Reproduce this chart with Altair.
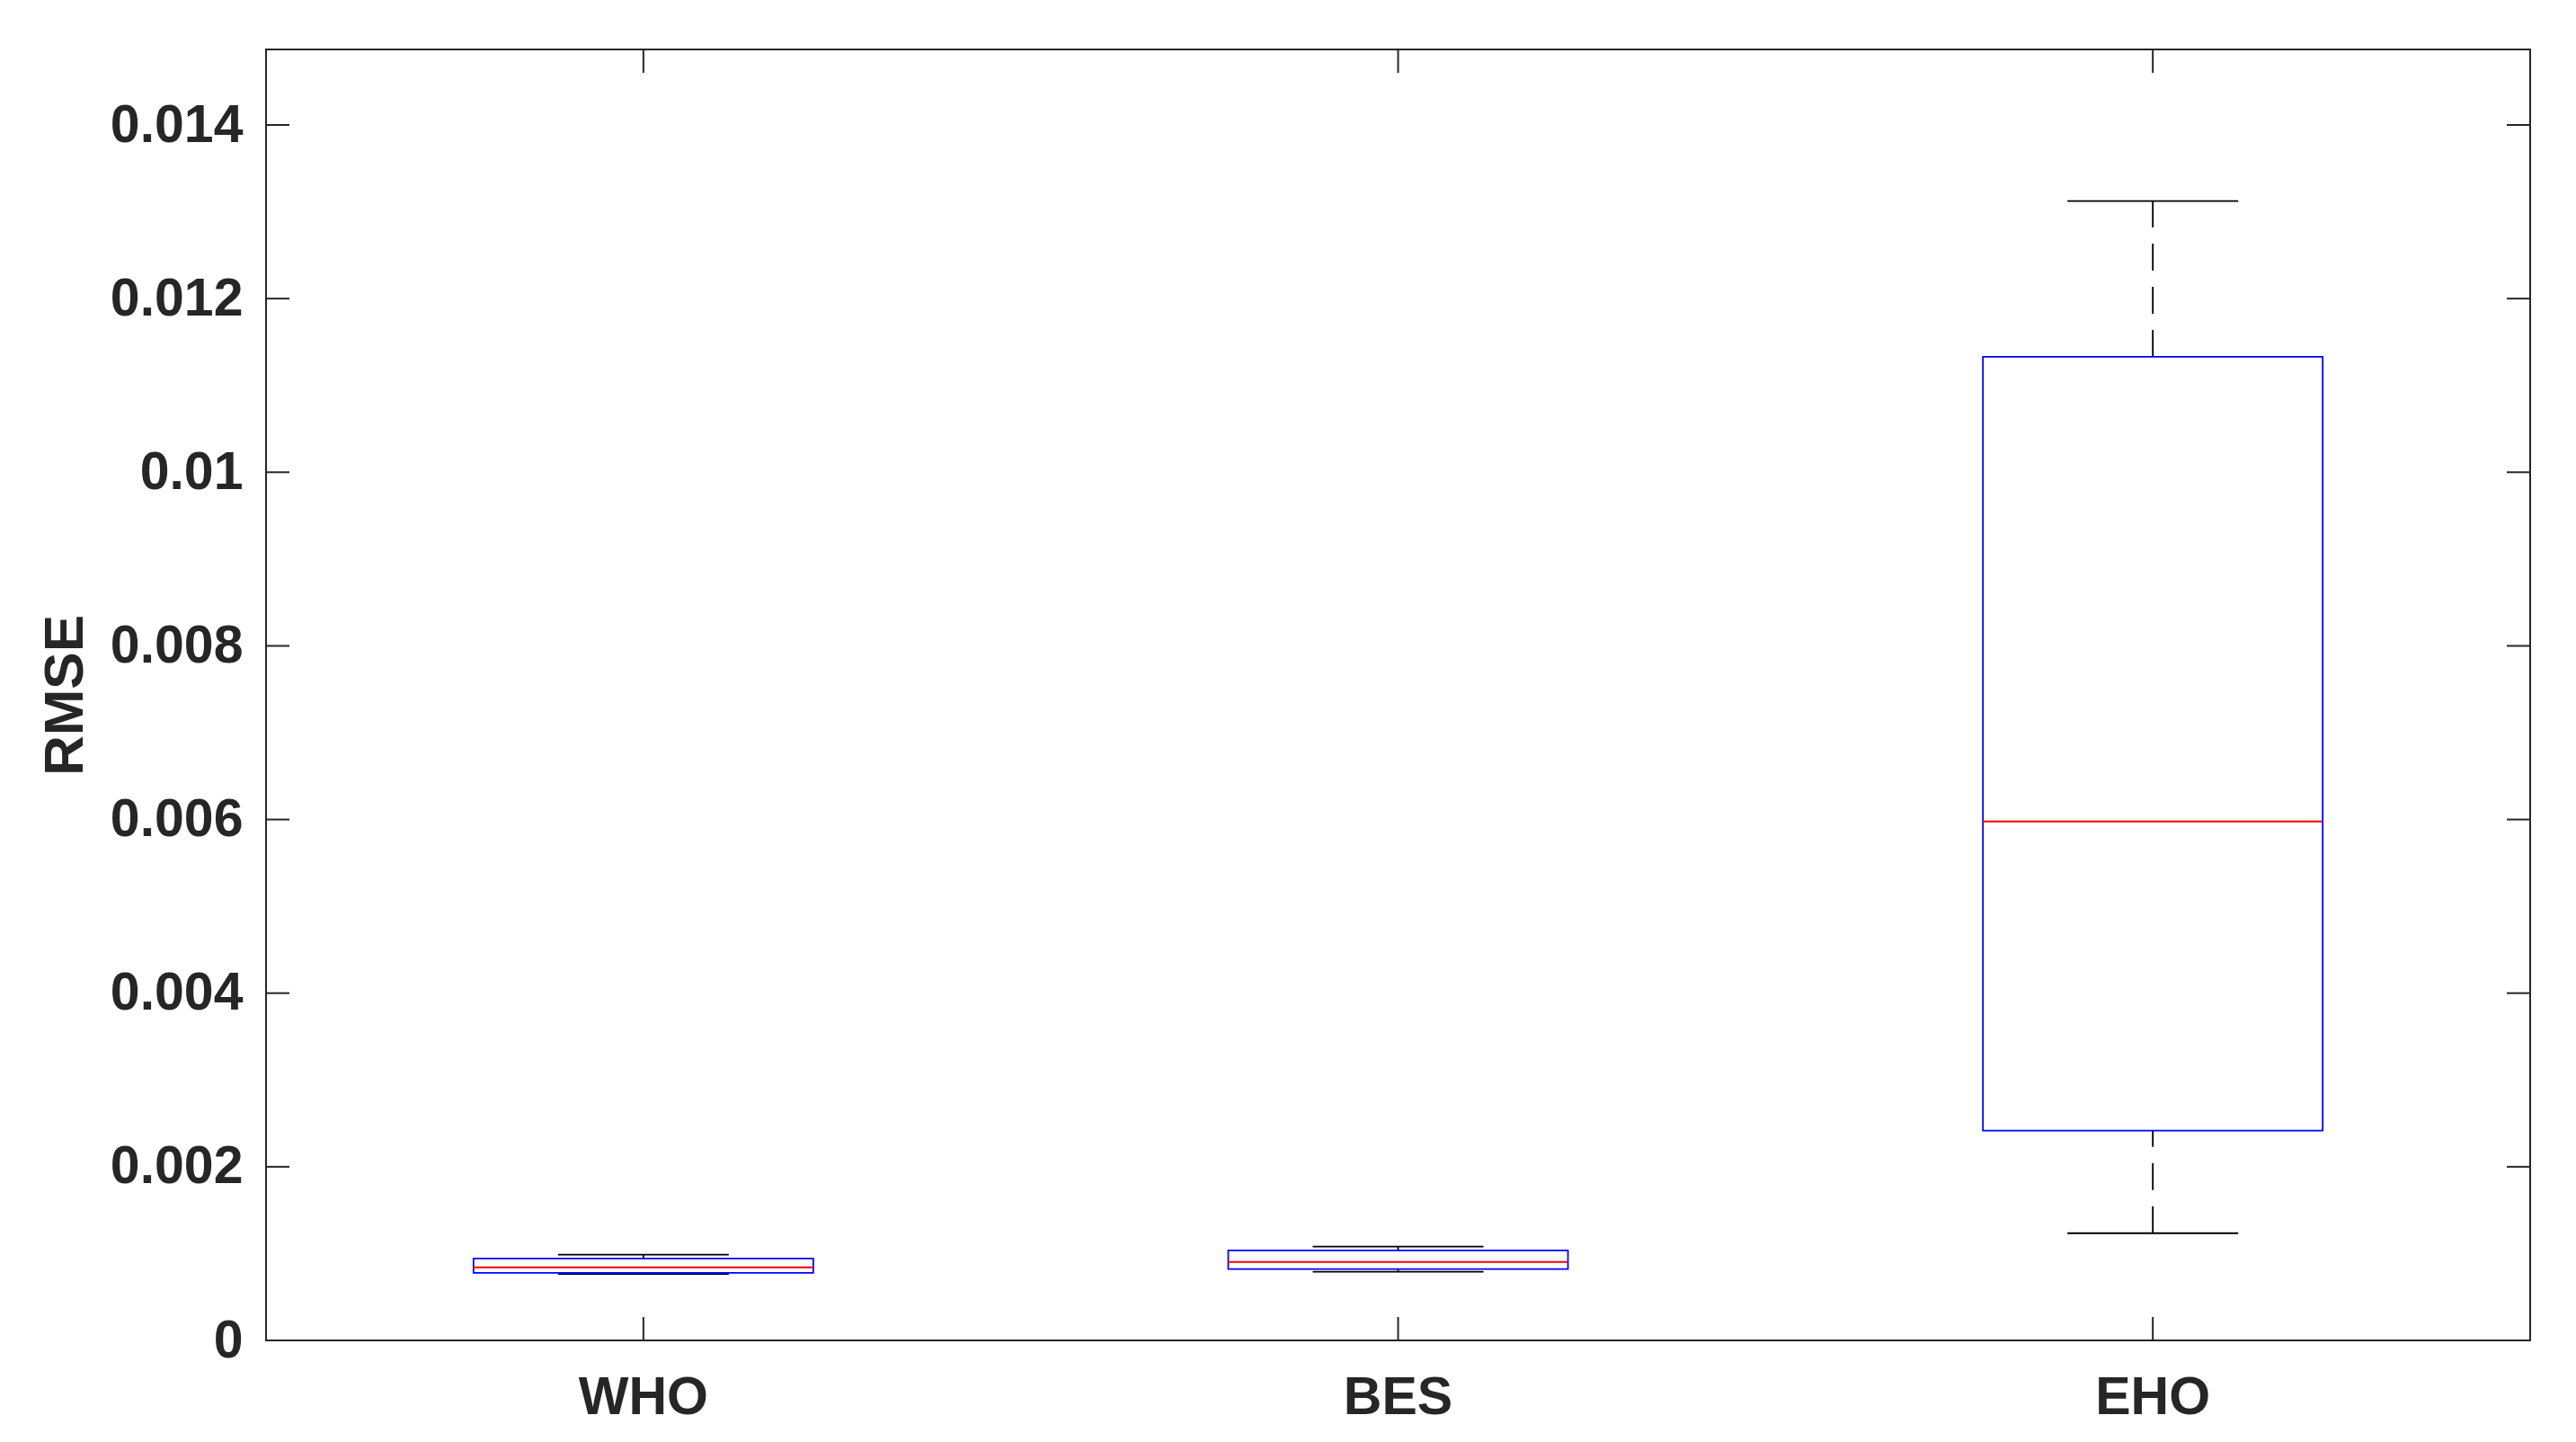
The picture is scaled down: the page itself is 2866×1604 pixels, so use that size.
import altair as alt
import pandas as pd

# ---- data ----
categories = ["WHO", "BES", "EHO"]
whisker_low = [0.000766, 0.000790, 0.001235]
q1 = [0.000777, 0.000821, 0.002416]
median = [0.000842, 0.000904, 0.005978]
q3 = [0.000943, 0.001036, 0.011329]
whisker_high = [0.000987, 0.001080, 0.013123]

y_ticks = [0, 0.002, 0.004, 0.006, 0.008, 0.010, 0.012, 0.014]
y_max = 0.01487

# ---- layout / style ----
W, H = 2519, 1436
TICK_LEN = 26
AXIS_COLOR = "#262626"
FONT = "Liberation Sans"
BOX_W = 378
CAP_W = 190

df = pd.DataFrame({
    "cat": categories,
    "wlo": whisker_low,
    "q1": q1,
    "med": median,
    "q3": q3,
    "whi": whisker_high,
})
ticks_df = pd.DataFrame({"t": y_ticks})
cats_df = pd.DataFrame({"cat": categories})

x_scale = alt.Scale(domain=categories, paddingInner=0, paddingOuter=0)
y_scale = alt.Scale(domain=[0, y_max], nice=False, zero=False)

x_enc = alt.X(
    "cat:N", scale=x_scale, sort=categories,
    axis=alt.Axis(
        title=None, labelAngle=0, domain=False, ticks=False, tickSize=0,
        labelFont=FONT, labelFontSize=59, labelFontWeight="bold",
        labelColor=AXIS_COLOR, labelPadding=34, grid=False,
    ),
)

y_axis = alt.Axis(
    title="RMSE", values=y_ticks, format=".3~f", domain=False, ticks=False,
    tickSize=0, grid=False, labelFont=FONT, labelFontSize=59,
    labelFontWeight="bold", labelColor=AXIS_COLOR, labelPadding=26,
    titleFont=FONT, titleFontSize=62, titleFontWeight="bold",
    titleColor=AXIS_COLOR, titlePadding=18,
)

base = alt.Chart(df)

upper_whisker = base.mark_rule(color="black", strokeWidth=1.8, strokeDash=[30, 18]).encode(
    x=x_enc,
    y=alt.Y("q3:Q", scale=y_scale, axis=y_axis),
    y2="whi:Q",
)
lower_whisker = base.mark_rule(color="black", strokeWidth=1.8, strokeDash=[30, 18]).encode(
    x=x_enc,
    y=alt.Y("wlo:Q", scale=y_scale),
    y2="q1:Q",
)
cap_hi = base.mark_tick(color="black", size=CAP_W, thickness=1.8, opacity=1).encode(
    x=x_enc, y=alt.Y("whi:Q", scale=y_scale)
)
cap_lo = base.mark_tick(color="black", size=CAP_W, thickness=1.8, opacity=1).encode(
    x=x_enc, y=alt.Y("wlo:Q", scale=y_scale)
)
box = base.mark_bar(
    size=BOX_W, fill="white", fillOpacity=0, stroke="#0000FF", strokeWidth=1.8
).encode(
    x=x_enc, y=alt.Y("q1:Q", scale=y_scale), y2="q3:Q"
)
med = base.mark_tick(color="#FF0000", size=BOX_W, thickness=1.9, opacity=1).encode(
    x=x_enc, y=alt.Y("med:Q", scale=y_scale)
)

# inward ticks (MATLAB style) on all four sides
tick_left = alt.Chart(ticks_df).mark_rule(color=AXIS_COLOR, strokeWidth=2).encode(
    y=alt.Y("t:Q", scale=y_scale), x=alt.value(0), x2=alt.value(TICK_LEN)
)
tick_right = alt.Chart(ticks_df).mark_rule(color=AXIS_COLOR, strokeWidth=2).encode(
    y=alt.Y("t:Q", scale=y_scale), x=alt.value(W - TICK_LEN), x2=alt.value(W)
)
tick_bottom = alt.Chart(cats_df).mark_rule(color=AXIS_COLOR, strokeWidth=2).encode(
    x=alt.X("cat:N", scale=x_scale, sort=categories), y=alt.value(H - TICK_LEN), y2=alt.value(H)
)
tick_top = alt.Chart(cats_df).mark_rule(color=AXIS_COLOR, strokeWidth=2).encode(
    x=alt.X("cat:N", scale=x_scale, sort=categories), y=alt.value(0), y2=alt.value(TICK_LEN)
)

chart = alt.layer(
    upper_whisker, lower_whisker, cap_hi, cap_lo, box, med,
    tick_left, tick_right, tick_bottom, tick_top,
).properties(
    width=W, height=H,
    autosize=alt.AutoSizeParams(type="none"),
    padding={"left": 288, "top": 47, "right": 30, "bottom": 110},
    background="white",
).configure_view(
    stroke=AXIS_COLOR, strokeWidth=2
)

chart.save("out.html", embed_options={"renderer": "svg", "actions": False})
